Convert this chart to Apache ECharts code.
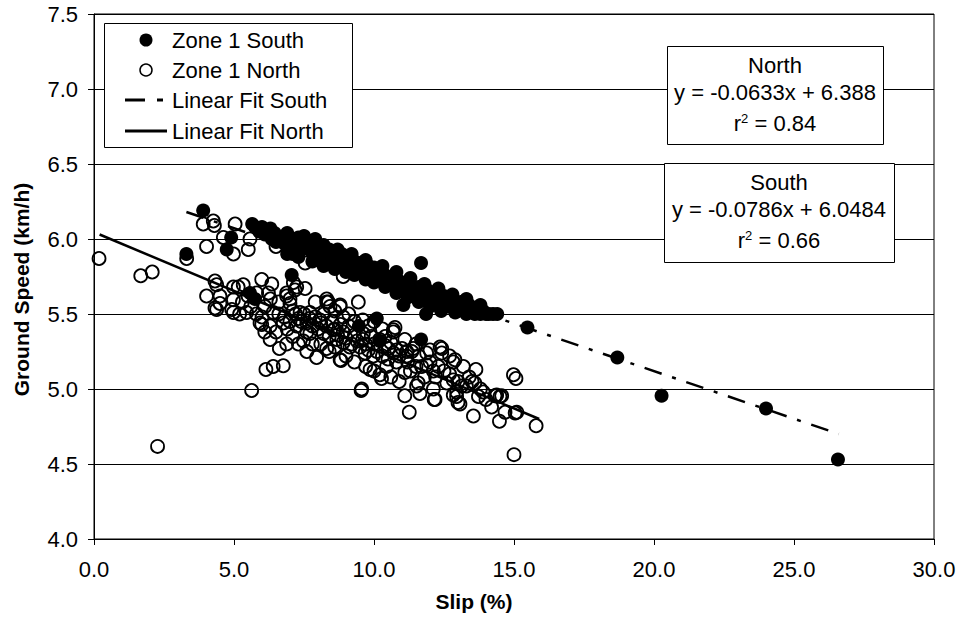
<!DOCTYPE html>
<html>
<head>
<meta charset="utf-8">
<script src="https://cdn.jsdelivr.net/npm/echarts@6/dist/echarts.min.js"></script>
<style>
html,body{margin:0;padding:0;background:#fff;}
#chart{width:961px;height:627px;}
</style>
</head>
<body>
<div id="chart"></div>
<script>
// ---- data ----
const xTicks = ['0.0','5.0','10.0','15.0','20.0','25.0','30.0'];
const yTicks = ['4.0','4.5','5.0','5.5','6.0','6.5','7.0','7.5'];

const southPoints = [
[3.3,5.90],[3.9,6.19],[4.74,5.93],[4.9,6.01],[5.57,5.64],[5.75,5.60],[5.65,6.10],[5.75,6.08],[5.9,6.05],[6.0,6.08],
[6.1,6.03],[6.2,6.05],[6.3,6.02],[6.35,6.0],[6.45,6.04],[6.5,5.98],[6.6,6.01],[6.7,6.0],[6.8,5.97],[6.85,6.02],
[6.95,6.0],[7.0,5.95],[7.06,5.76],[7.1,5.9],[7.15,6.0],[7.25,5.97],[7.3,6.01],[7.4,5.93],[7.45,5.98],[7.55,6.0],
[7.6,5.95],[7.7,5.97],[7.75,5.92],[7.85,5.96],[7.9,5.89],[8.0,5.94],[8.05,5.88],[8.15,5.92],[8.2,5.86],[8.3,5.9],
[8.4,5.93],[8.45,5.87],[8.55,5.9],[8.6,5.84],[8.7,5.88],[8.8,5.86],[8.85,5.9],[8.95,5.82],[9.0,5.87],[9.1,5.85],
[9.2,5.8],[9.25,5.86],[9.35,5.83],[9.45,5.79],[9.5,5.84],[9.6,5.81],[9.7,5.78],[9.75,5.83],[9.85,5.79],[9.95,5.76],
[10.0,5.81],[10.1,5.47],[10.1,5.77],[10.2,5.74],[10.3,5.78],[10.4,5.72],[10.5,5.75],[10.6,5.7],[10.7,5.74],[10.8,5.68],
[10.9,5.72],[11.0,5.69],[11.05,5.56],[11.1,5.66],[11.2,5.7],[11.3,5.64],[11.4,5.67],[11.5,5.62],[11.58,5.6],[11.6,5.68],
[11.68,5.84],[11.7,5.63],[11.68,5.33],[11.8,5.6],[11.86,5.5],[11.9,5.66],[12.0,5.62],[12.1,5.58],[12.2,5.64],[12.3,5.6],
[12.4,5.57],[12.5,5.62],[12.6,5.58],[12.7,5.55],[12.8,5.6],[12.9,5.56],[13.0,5.53],[13.1,5.58],[13.2,5.55],[13.3,5.5],
[13.4,5.56],[13.5,5.52],[13.6,5.5],[13.7,5.54],[13.8,5.5],[13.9,5.52],[14.0,5.5],[14.1,5.5],[14.25,5.5],[14.4,5.5],
[6.9,5.9],[7.3,5.88],[7.8,5.85],[8.2,5.82],[8.6,5.80],[9.0,5.78],[9.3,5.76],[9.7,5.73],[10.0,5.71],[10.4,5.68],
[10.8,5.64],[11.2,5.61],[11.6,5.58],[12.0,5.55],[12.4,5.52],[12.9,5.51],[8.2,5.96],[8.7,5.93],[9.2,5.9],[9.7,5.86],
[10.3,5.82],[10.8,5.78],[11.3,5.74],[11.8,5.7],[12.3,5.67],[12.8,5.63],[13.3,5.6],[13.8,5.56],[6.3,6.07],[6.9,6.04],
[7.5,6.02],[7.9,6.0],
[9.46,5.42],[10.2,5.32],[15.48,5.41],[18.69,5.21],[20.27,4.955],[24.0,4.87],[26.57,4.53]
];

const northPoints = [
[0.18,5.87],[1.67,5.755],[2.08,5.78],[2.27,4.617],[3.31,5.87],[3.9,6.10],[4.26,6.12],[4.3,6.09],[5.04,6.10],[4.62,6.01],
[4.02,5.95],[5.57,6.0],[5.51,5.93],[4.98,5.90],[6.5,5.95],[7.54,5.84],[8.9,5.75],
[4.32,5.72],[4.38,5.695],[4.02,5.62],[4.5,5.62],[4.32,5.54],[4.38,5.53],[4.98,5.68],[5.15,5.68],[5.33,5.695],
[5.99,5.73],[6.35,5.7],[4.98,5.595],[4.92,5.53],[4.98,5.51],[5.45,5.51],[5.81,5.64],[6.88,5.64],[7.12,5.71],[7.24,5.68],
[7.54,5.67],[7.18,5.66],[6.88,5.62],[6.23,5.64],[7.0,5.6],[8.31,5.6],[8.31,5.58],[8.79,5.56],[8.37,5.58],[9.44,5.58],
[8.43,5.55],[8.79,5.55],[7.0,5.57],[7.36,5.51],[7.71,5.51],[6.4,5.51],[5.93,5.44],[5.99,5.43],[6.29,5.42],[6.76,5.44],
[7.24,5.42],[7.71,5.37],[8.07,5.46],[8.55,5.395],[8.9,5.31],[10.75,5.41],[10.69,5.38],[10.69,5.395],
[5.63,4.99],[6.14,5.13],[6.4,5.15],[6.76,5.155],[6.62,5.27],[6.88,5.30],[6.29,5.33],[6.1,5.38],[7.6,5.25],[7.95,5.21],
[8.79,5.195],[7.48,5.32],[8.31,5.27],[8.82,5.19],[9.54,4.99],
[13.64,5.13],[13.6,5.04],[13.73,4.95],[13.55,4.82],[11.26,4.845],[11.1,4.955],[12.15,4.93],[13.0,4.91],[12.83,4.96],
[14.32,4.955],[14.5,4.95],[14.98,5.095],[15.07,5.07],[14.36,4.955],[14.56,4.955],[14.68,4.845],[15.04,4.84],[15.1,4.845],
[14.48,4.785],[15.79,4.755],[15.0,4.562],
[12.42,5.27],[12.42,5.24],[12.83,5.18],[13.19,5.15],[13.13,5.02],[11.17,5.22],[12.83,5.06],[11.88,5.16],[10.21,5.095],
[11.52,5.02],[12.12,5.0],[12.95,4.95],[13.07,4.90],[9.56,5.0],[12.18,4.93],[12.89,5.195],[12.36,5.28],[11.88,5.24],
[10.81,5.26],[11.35,5.25],[12.12,5.12],[12.6,5.04],[12.95,4.98],[14.38,4.96],[10.27,5.07],[9.86,5.13],[10.45,5.15],
[11.1,5.11],[11.58,5.04],[11.64,4.97],[9.98,5.22],[10.51,5.27],[9.14,5.28],[9.68,5.24],[8.67,5.33],[9.62,5.37],
[11.17,5.25],[11.7,5.15],[11.4,5.27],
[6.6,5.5],[6.8,5.48],[7.0,5.45],[7.1,5.52],[7.2,5.5],[7.3,5.47],[7.4,5.45],[7.5,5.5],[7.6,5.44],[7.7,5.47],
[7.8,5.42],[7.9,5.48],[8.0,5.4],[8.1,5.44],[8.2,5.37],[8.3,5.42],[8.4,5.35],[8.5,5.45],[8.6,5.4],[8.7,5.36],
[8.8,5.43],[8.9,5.38],[9.0,5.34],[9.1,5.42],[9.2,5.3],[9.3,5.36],[9.4,5.32],[9.5,5.28],[9.6,5.33],[9.7,5.3],
[9.8,5.26],[9.9,5.35],[10.0,5.3],[10.1,5.25],[10.2,5.33],[10.3,5.22],[10.4,5.29],[10.5,5.2],[10.6,5.31],[10.7,5.24],
[10.8,5.18],[10.9,5.22],[11.0,5.27],[11.2,5.18],[11.3,5.12],[11.5,5.15],[11.6,5.22],[11.8,5.08],[12.0,5.18],[12.2,5.08],
[12.3,5.15],[12.5,5.12],[12.7,5.1],[13.0,5.05],[13.3,5.02],[13.4,5.08],[7.1,5.35],[7.3,5.3],[7.8,5.3],[8.1,5.3],
[8.4,5.25],[8.6,5.28],[9.0,5.22],[9.3,5.18],[9.7,5.15],[10.0,5.12],[10.6,5.08],[10.9,5.05],[6.5,5.38],[6.9,5.4],
[7.6,5.38],[8.2,5.5],[8.9,5.48],[9.3,5.45],[9.8,5.42],[10.3,5.4],[10.0,5.45],[5.3,5.58],[5.6,5.55],[5.8,5.5],
[6.1,5.55],[6.3,5.6],[6.0,5.48],[5.5,5.62],[5.2,5.5],[4.5,5.57],[6.6,5.58],[7.9,5.58],[8.6,5.52],[9.1,5.5],
[9.6,5.46],[10.4,5.35],[11.1,5.33],[11.5,5.3],[12.0,5.26],[12.7,5.22],[13.5,5.05],[13.9,4.98],[14.0,4.93],[14.2,4.88],
[13.8,5.0]
];

// fitted line end points (as drawn in the reference)
const fitSouth = [[3.3,6.18],[26.6,4.70]];
const fitNorth = [[0.2,6.03],[15.9,4.80]];

const legendNames = ['Zone 1 South','Zone 1 North','Linear Fit South','Linear Fit North'];
const boxNorth = ['North','y = -0.0633x + 6.388','0.84'];
const boxSouth = ['South','y = -0.0786x + 6.0484','0.66'];

// ---- chart ----
const FONT = 'Liberation Sans, Arial, sans-serif';
const chart = echarts.init(document.getElementById('chart'), null, {renderer:'svg'});

function eqBox(left, top, w, h, lines, z){
  const cx = left + w/2;
  return [
    {type:'rect', left:left, top:top, z:z, shape:{width:w, height:h},
     style:{fill:'#fff', stroke:'#000', lineWidth:1}},
    {type:'text', z:z+1, x:cx, y:top+19, style:{text:lines[0], font:'22px '+FONT, fill:'#000', align:'center', verticalAlign:'middle'}},
    {type:'text', z:z+1, x:cx, y:top+46, style:{text:lines[1], font:'22px '+FONT, fill:'#000', align:'center', verticalAlign:'middle'}},
    {type:'text', z:z+1, x:cx, y:top+77, style:{
      text:'r{s|2} = '+lines[2], font:'22px '+FONT, fill:'#000', align:'center', verticalAlign:'middle',
      rich:{s:{fontSize:13, fontFamily:FONT, fill:'#000', verticalAlign:'top', padding:[0,0,8,0]}}
    }}
  ];
}

const lx = 125, lx2 = 167, ltx = 172;
const graphics = [
  {type:'rect', left:104, top:23, z:50, shape:{width:248, height:124}, style:{fill:'#fff', stroke:'#000', lineWidth:1}},
  {type:'circle', z:51, shape:{cx:146, cy:40, r:6.5}, style:{fill:'#000'}},
  {type:'circle', z:51, shape:{cx:146, cy:70, r:6}, style:{fill:'#fff', stroke:'#000', lineWidth:1.5}},
  {type:'line', z:51, shape:{x1:lx, y1:100, x2:145, y2:100}, style:{stroke:'#000', lineWidth:3}},
  {type:'line', z:51, shape:{x1:157, y1:100, x2:163, y2:100}, style:{stroke:'#000', lineWidth:3}},
  {type:'line', z:51, shape:{x1:lx, y1:131, x2:lx2, y2:131}, style:{stroke:'#000', lineWidth:3}},
];
legendNames.forEach((n,i)=>{
  graphics.push({type:'text', z:51, x:ltx, y:[40,70,100,131][i], style:{text:n, font:'22px '+FONT, fill:'#000', align:'left', verticalAlign:'middle'}});
});
eqBox(667, 46, 216, 98, boxNorth, 50).forEach(g=>graphics.push(g));
eqBox(664, 163, 230, 99, boxSouth, 50).forEach(g=>graphics.push(g));

chart.setOption({
  animation:false,
  backgroundColor:'#fff',
  textStyle:{fontFamily:FONT},
  grid:{left:94, right:27, top:14, bottom:88, show:true, borderColor:'#000', borderWidth:1, backgroundColor:'transparent'},
  xAxis:{
    type:'value', min:0, max:30, interval:5,
    name:'Slip (%)', nameLocation:'middle', nameGap:52,
    nameTextStyle:{fontSize:21, fontWeight:'bold', color:'#000', fontFamily:FONT, padding:[0,80,0,0]},
    axisLine:{show:true, onZero:false, lineStyle:{color:'#000', width:1}},
    axisTick:{show:true, length:6, lineStyle:{color:'#000'}},
    axisLabel:{fontSize:22, color:'#000', margin:19, fontFamily:FONT, formatter:(v)=>xTicks[Math.round(v/5)]},
    splitLine:{show:false}
  },
  yAxis:{
    type:'value', min:4, max:7.5, interval:0.5,
    name:'Ground Speed (km/h)', nameLocation:'middle', nameGap:62,
    nameTextStyle:{fontSize:21, fontWeight:'bold', color:'#000', fontFamily:FONT, padding:[0,26,0,0]},
    axisLine:{show:true, lineStyle:{color:'#000', width:1}},
    axisTick:{show:true, length:6, lineStyle:{color:'#000'}},
    axisLabel:{fontSize:22, color:'#000', margin:16, fontFamily:FONT, formatter:(v)=>yTicks[Math.round((v-4)/0.5)]},
    splitLine:{show:true, lineStyle:{color:'#000', width:1}}
  },
  series:[
    {name:'Zone 1 North', type:'scatter', data:northPoints, symbol:'circle', symbolSize:13, z:2,
     itemStyle:{color:'transparent', borderColor:'#000', borderWidth:1.8, opacity:1}, emphasis:{disabled:true}},
    {name:'Zone 1 South', type:'scatter', data:southPoints, symbol:'circle', symbolSize:14, z:3,
     itemStyle:{color:'#000', borderColor:'#000', borderWidth:0, opacity:1}, emphasis:{disabled:true}},
    {name:'Linear Fit South', type:'line', data:fitSouth, showSymbol:false, symbol:'none', z:4,
     lineStyle:{color:'#000', width:2.5, type:[18,11,4,11], opacity:1}, emphasis:{disabled:true}},
    {name:'Linear Fit North', type:'line', data:fitNorth, showSymbol:false, symbol:'none', z:4,
     lineStyle:{color:'#000', width:2.5, type:'solid', opacity:1}, emphasis:{disabled:true}}
  ],
  graphic:graphics
});
</script>
</body>
</html>
